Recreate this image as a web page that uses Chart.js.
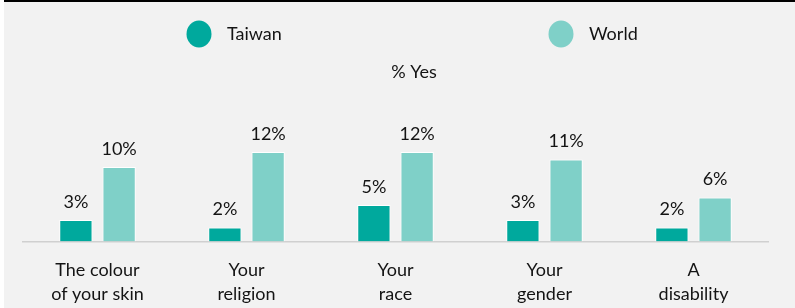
<!DOCTYPE html>
<html>
<head>
<meta charset="utf-8">
<script src="https://cdn.jsdelivr.net/npm/chart.js@4"></script>
<style>
    html, body { margin: 0; padding: 0; background: #ffffff; }
    #wrap {
        position: absolute; left: 4px; top: 0;
        width: 791px; height: 306px;
        background: #f2f2f2; border-top: 2px solid #000;
    }
</style>
</head>
<body>
<div id="wrap"><canvas id="chartCanvas" width="791" height="306"></canvas></div>
<script>
const categories = [
    ['The colour', 'of your skin'],
    ['Your', 'religion'],
    ['Your', 'race'],
    ['Your', 'gender'],
    ['A', 'disability'],
];
const seriesNames = ['Taiwan', 'World'];
const taiwanValues = [2.9, 1.9, 4.9, 2.9, 1.9];
const worldValues = [10, 12, 12, 11, 5.9];
const chartTitle = '% Yes';

const colors = ['#00a99d', '#7fd0c8'];
const textColor = '#141414';
const fontFamily = 'Lato, sans-serif';

// value labels over the bars
const barLabels = {
    id: 'barLabels',
    afterDatasetsDraw(chart) {
        const ctx = chart.ctx;
        ctx.save();
        ctx.font = '18px ' + fontFamily;
        ctx.fillStyle = textColor;
        ctx.textAlign = 'center';
        ctx.textBaseline = 'middle';
        chart.data.datasets.forEach((ds, i) => {
            chart.getDatasetMeta(i).data.forEach((bar, j) => {
                ctx.fillText(Math.round(ds.data[j]) + '%', bar.x, bar.y - 18);
            });
        });
        ctx.restore();
    },
};

// legend with round markers + the "% Yes" heading
const topLegend = {
    id: 'topLegend',
    afterDraw(chart) {
        const ctx = chart.ctx;
        const itemX = [195, 557];
        ctx.save();
        ctx.font = '18px ' + fontFamily;
        ctx.textBaseline = 'middle';
        chart.data.datasets.forEach((ds, i) => {
            ctx.fillStyle = ds.backgroundColor;
            ctx.beginPath();
            ctx.ellipse(itemX[i], 32, 12.5, 13.5, 0, 0, Math.PI * 2);
            ctx.fill();
            ctx.fillStyle = textColor;
            ctx.textAlign = 'left';
            ctx.fillText(ds.label, itemX[i] + 28, 32);
        });
        ctx.textAlign = 'center';
        ctx.fillText(chartTitle, 410, 70);
        ctx.restore();
    },
};

new Chart(document.getElementById('chartCanvas').getContext('2d'), {
    type: 'bar',
    data: {
        labels: categories,
        datasets: [
            { label: seriesNames[0], data: taiwanValues, backgroundColor: colors[0] },
            { label: seriesNames[1], data: worldValues, backgroundColor: colors[1] },
        ].map(d => Object.assign(d, {
            borderColor: '#ffffff',
            borderWidth: 1,
            categoryPercentage: 0.58,
            barPercentage: 0.77,
        })),
    },
    options: {
        responsive: false,
        animation: false,
        layout: { padding: { top: 135, left: 19, right: 27, bottom: -14.5 } },
        plugins: {
            legend: { display: false },
            title: { display: false },
            tooltip: { enabled: false },
        },
        scales: {
            x: {
                grid: { display: false, drawTicks: false },
                border: { color: '#d0d0d0', width: 1.5 },
                ticks: {
                    color: textColor,
                    padding: 16.5,
                    maxRotation: 0,
                    font: { family: fontFamily, size: 18, lineHeight: 1.33 },
                },
            },
            y: {
                display: false,
                min: 0,
                max: 14,
            },
        },
    },
    plugins: [barLabels, topLegend],
});
</script>
</body>
</html>
